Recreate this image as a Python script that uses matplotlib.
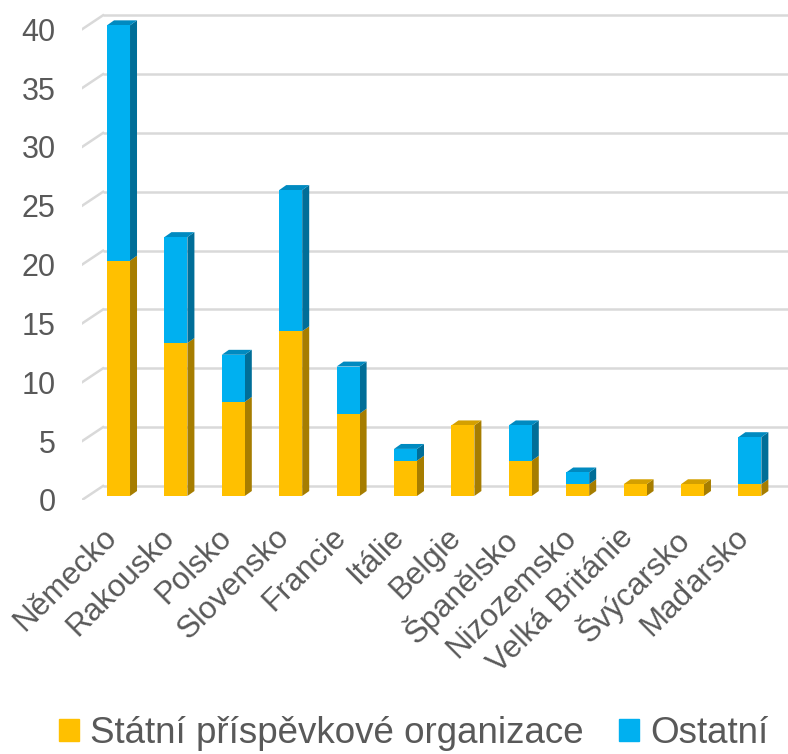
import numpy as np
import matplotlib
matplotlib.use("Agg")
import matplotlib.pyplot as plt
from matplotlib.patches import Polygon, Patch

plt.rcParams["font.family"] = ["Liberation Sans", "DejaVu Sans"]

# ---- DATA ----
countries = ["Německo", "Rakousko", "Polsko", "Slovensko", "Francie", "Itálie",
             "Belgie", "Španělsko", "Nizozemsko", "Velká Británie", "Švýcarsko", "Maďarsko"]
statni = [20, 13, 8, 14, 7, 3, 6, 3, 1, 1, 1, 1]
ostatni = [20, 9, 4, 12, 4, 1, 0, 3, 1, 0, 0, 4]
y_ticks = [0, 5, 10, 15, 20, 25, 30, 35, 40]
series_names = ["Státní příspěvkové organizace", "Ostatní"]

# ---- STYLE ----
TEXT_COLOR = "#595959"
GRID_COLOR = "#D9D9D9"
FACE = {"statni": "#FFC000", "ostatni": "#00B0F0"}
SIDE = {"statni": "#A67D00", "ostatni": "#006E98"}
TOP = {"statni": "#D4A000", "ostatni": "#008AC0"}

BAR_W = 0.40
DX, DY = 0.122, 0.42          # bar depth (x units, y units)
FRONT_OFF = -0.34             # front edge of the floor
BACK_OFF = 0.85               # back wall offset
WALL_X0, WALL_X1 = -0.636, -0.27

fig = plt.figure(figsize=(7.88, 7.54), dpi=100)
ax = fig.add_axes([0.1041, 0.3369, 0.8959, 0.6522])
ax.set_xlim(WALL_X0, 11.664)
ax.set_ylim(FRONT_OFF, 41.45)

# back wall grid + left wall diagonals
for v in y_ticks:
    ax.plot([WALL_X1, 11.664], [v + BACK_OFF, v + BACK_OFF], color=GRID_COLOR, lw=1.8,
            zorder=1, solid_capstyle="butt")
    ax.plot([WALL_X0, WALL_X1], [v + FRONT_OFF, v + BACK_OFF], color=GRID_COLOR, lw=1.8,
            zorder=1)


def draw_segment(x, y0, y1, key, top):
    xl, xr = x - BAR_W / 2, x + BAR_W / 2
    ax.add_patch(Polygon([(xr, y0), (xr + DX, y0 + DY), (xr + DX, y1 + DY), (xr, y1)],
                         closed=True, facecolor=SIDE[key], edgecolor="none", zorder=3))
    if top:
        ax.add_patch(Polygon([(xl, y1), (xl + DX, y1 + DY), (xr + DX, y1 + DY), (xr, y1)],
                             closed=True, facecolor=TOP[key], edgecolor="none", zorder=3))


x = np.arange(len(countries))
for i in range(len(countries)):
    s, o = statni[i], ostatni[i]
    draw_segment(x[i], 0, s, "statni", o == 0)
    if o > 0:
        draw_segment(x[i], s, s + o, "ostatni", True)

ax.bar(x, statni, width=BAR_W, color=FACE["statni"], zorder=4)
ax.bar(x, ostatni, width=BAR_W, bottom=statni, color=FACE["ostatni"], zorder=4)

for sp in ax.spines.values():
    sp.set_visible(False)

ax.set_yticks([v + FRONT_OFF for v in y_ticks])
ax.set_yticklabels([str(v) for v in y_ticks])
ax.tick_params(axis="y", length=0, pad=19, labelsize=22, labelcolor=TEXT_COLOR)

ax.set_xticks(x + 0.08)
ax.set_xticklabels(countries, rotation=45, ha="right", va="top")
ax.tick_params(axis="x", length=0, pad=16, labelsize=22.5, labelcolor=TEXT_COLOR)

handles = [Patch(color=FACE["statni"]), Patch(color=FACE["ostatni"])]
fig.legend(handles, series_names, loc="center", bbox_to_anchor=(0.525, 0.027),
           ncol=2, frameon=False, fontsize=26.5, labelcolor=TEXT_COLOR,
           handlelength=0.55, handleheight=0.55, handletextpad=0.3, columnspacing=0.95,
           borderaxespad=0, borderpad=0)

fig.savefig("out.png", dpi=100)
